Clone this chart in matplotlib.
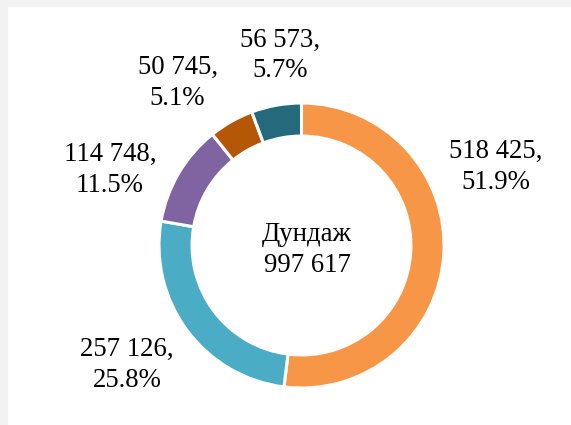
import matplotlib
matplotlib.use("Agg")
from matplotlib import pyplot as plt
from matplotlib.patches import Rectangle

# slices, clockwise from 12 o'clock
values = [518425, 257126, 114748, 50745, 56573]
shares = ["51.9%", "25.8%", "11.5%", "5.1%", "5.7%"]
colors = ["#F79646", "#4BACC6", "#8064A2", "#B65708", "#256A7C"]
center_title = "Дундаж"
total = 997617

# label centres in axes data units (ring radius = 1)
label_pos = [(1.365, 0.55), (-1.225, -0.84), (-1.344, 0.53), (-0.87, 1.14), (-0.15, 1.335)]


def fmt(n):
    return f"{n:,}".replace(",", " ")


plt.rcParams["font.family"] = ["Liberation Serif", "DejaVu Serif"]
W, H = 571, 425
fig = plt.figure(figsize=(W / 100, H / 100), dpi=100)
fig.patch.set_facecolor("white")

# light grey frame at top and left
fig.patches.append(Rectangle((0, 0), 7 / W, 1, transform=fig.transFigure, color="#f2f2f2", zorder=0))
fig.patches.append(Rectangle((0, 1 - 6 / H), 1, 6 / H, transform=fig.transFigure, color="#f2f2f2", zorder=0))

cx, cy, r = 301.5, 245.5, 142.5
ax = fig.add_axes([(cx - r) / W, (H - cy - r) / H, 2 * r / W, 2 * r / H])
ax.pie(values, colors=colors, startangle=90, counterclock=False, radius=1,
       wedgeprops=dict(width=0.232, edgecolor="white", linewidth=2.2))
ax.set_xlim(-1, 1)
ax.set_ylim(-1, 1)
ax.set_aspect("equal")
ax.axis("off")

fs = 19.3
for v, s, (x, y) in zip(values, shares, label_pos):
    ax.text(x, y, f"{fmt(v)},\n{s}", ha="center", va="center", fontsize=fs,
            linespacing=1.3, color="#000000")

ax.text(0.04, -0.03, f"{center_title}\n{fmt(total)}", ha="center", va="center",
        fontsize=fs, linespacing=1.3, color="#000000")

fig.savefig("out.png", dpi=100, facecolor="white")
